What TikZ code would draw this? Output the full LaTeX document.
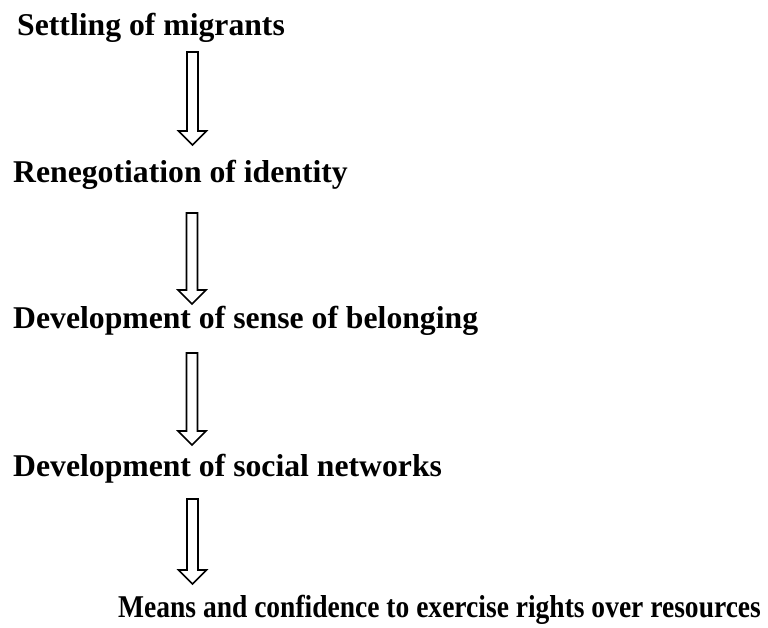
\documentclass[tikz,border=0pt]{standalone}
\usepackage{fontspec}
\setmainfont{Liberation Serif}
\usetikzlibrary{calc}
\tikzset{
  label text/.style={anchor=base west, inner sep=0pt, font=\fontsize{31.7}{38}\selectfont\bfseries},
  hollow/.style={draw=black, fill=white, line width=1.6pt, line join=miter}
}
\newcommand{\hollowarrow}[2]{%
  \draw[hollow] ($(#1)+(-5.5,0)$) -- ($(#2)+(-5.5,-14)$) -- ($(#2)+(-14,-14)$) -- (#2)
    -- ($(#2)+(14,-14)$) -- ($(#2)+(5.5,-14)$) -- ($(#1)+(5.5,0)$) -- cycle;}
\begin{document}
\begin{tikzpicture}[x=1pt,y=-1pt]
\useasboundingbox (0,0) rectangle (768,628);
\node[label text] (n1) at (17,36) {Settling of migrants};
\node[label text] (n2) at (13,183) {Renegotiation of identity};
\node[label text] (n3) at (13,328) {Development of sense of belonging};
\node[label text] (n4) at (13,476) {Development of social networks};
\node[label text] (n5) at (118,617) {\scalebox{0.868}[1]{Means and confidence to exercise rights over resources}};
\coordinate (t1) at (192.5,52);  \coordinate (b1) at (192.5,145);
\coordinate (t2) at (192,213);   \coordinate (b2) at (192,304);
\coordinate (t3) at (192,353);   \coordinate (b3) at (192,445);
\coordinate (t4) at (192.5,499); \coordinate (b4) at (192.5,584);
\hollowarrow{t1}{b1}
\hollowarrow{t2}{b2}
\hollowarrow{t3}{b3}
\hollowarrow{t4}{b4}
\end{tikzpicture}
\end{document}
